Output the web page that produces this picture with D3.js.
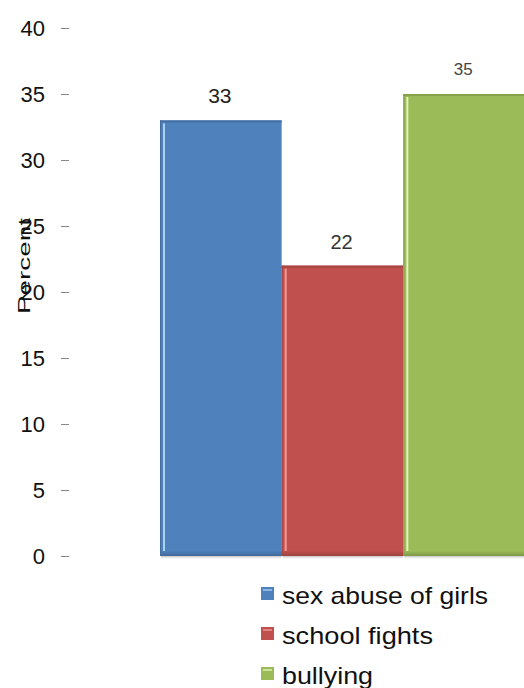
<!DOCTYPE html>
<html>
<head>
<meta charset="utf-8">
<script src="https://cdn.jsdelivr.net/npm/d3@7/dist/d3.min.js"></script>
<style>
html,body{margin:0;padding:0;background:#fff;}
svg{display:block;font-family:"Liberation Sans",Arial,sans-serif;}
</style>
</head>
<body>
<svg id="chart" width="524" height="688"></svg>
<script>
const categories = ["sex abuse of girls", "school fights", "bullying"];
const values = [33, 22, 35];
const colors = ["#4F81BD", "#C0504D", "#9BBB59"];
const highlights = ["#A9D0F5", "#F29A97", "#E4F5B8"];
const yTicks = [0, 5, 10, 15, 20, 25, 30, 35, 40];
const yLabel = "Percent";

const svg = d3.select("#chart");
const y = d3.scaleLinear().domain([0, 40]).range([556, 28]);
const x = d3.scaleBand().domain(categories).range([160, 525]).padding(0);

// gradients for bottom shading
const defs = svg.append("defs");
colors.forEach((c, i) => {
  const g = defs.append("linearGradient").attr("id", "g" + i)
    .attr("x1", 0).attr("y1", 0).attr("x2", 0).attr("y2", 1);
  g.append("stop").attr("offset", "0%").attr("stop-color", c);
  g.append("stop").attr("offset", "100%").attr("stop-color", d3.color(c).darker(0.6));
});
const sh = defs.append("linearGradient").attr("id", "shadow")
  .attr("x1", 0).attr("y1", 0).attr("x2", 0).attr("y2", 1);
sh.append("stop").attr("offset", "0%").attr("stop-color", "#999").attr("stop-opacity", 0.6);
sh.append("stop").attr("offset", "100%").attr("stop-color", "#fff").attr("stop-opacity", 0);

// y axis ticks and labels
const yAxis = d3.axisLeft(y).tickValues(yTicks).tickSize(8).tickPadding(16).tickFormat(d3.format("d"));
const ax = svg.append("g").attr("transform", "translate(69,0)").call(yAxis);
ax.select(".domain").remove();
ax.selectAll(".tick line").attr("stroke", "#888").attr("stroke-width", 1);
ax.selectAll(".tick text").attr("font-size", 22).attr("fill", "#111")
  .attr("font-family", "'Liberation Sans',Arial,sans-serif").attr("dy", "0.34em");

// y label
svg.append("text")
  .attr("transform", "translate(30,266) rotate(-90)")
  .attr("text-anchor", "middle")
  .attr("font-size", 17).attr("fill", "#111")
  .attr("textLength", 96).attr("lengthAdjust", "spacingAndGlyphs")
  .text(yLabel);

// bars
const bars = svg.append("g").selectAll("g").data(categories).join("g");
bars.append("rect")
  .attr("x", d => x(d) + 1).attr("width", x.bandwidth() - 1)
  .attr("y", 556).attr("height", 4)
  .attr("fill", "url(#shadow)");
bars.append("rect")
  .attr("x", d => x(d)).attr("width", x.bandwidth())
  .attr("y", (d, i) => y(values[i])).attr("height", (d, i) => y(0) - y(values[i]))
  .attr("fill", (d, i) => colors[i]);
bars.append("rect")
  .attr("x", d => x(d)).attr("width", x.bandwidth())
  .attr("y", y(0) - 5).attr("height", 5)
  .attr("fill", (d, i) => `url(#g${i})`);
bars.append("rect")
  .attr("x", d => x(d)).attr("width", x.bandwidth())
  .attr("y", (d, i) => y(values[i])).attr("height", 2)
  .attr("fill", (d, i) => d3.color(colors[i]).darker(0.4));
bars.append("rect")
  .attr("x", d => x(d) + 3).attr("width", 2)
  .attr("y", (d, i) => y(values[i]) + 3).attr("height", (d, i) => y(0) - y(values[i]) - 8)
  .attr("fill", (d, i) => highlights[i]);
bars.append("rect")
  .attr("x", d => x(d)).attr("width", 1)
  .attr("y", (d, i) => y(values[i])).attr("height", (d, i) => y(0) - y(values[i]))
  .attr("fill", (d, i) => d3.color(colors[i]).darker(0.5));

// value labels
const labelSizes = [21, 20, 17];
const labelColors = ["#222", "#333", "#444"];
bars.append("text")
  .attr("x", d => x(d) + x.bandwidth() / 2 - 1)
  .attr("y", (d, i) => y(values[i]) - (i === 2 ? 19 : 17))
  .attr("text-anchor", "middle")
  .attr("font-size", (d, i) => labelSizes[i])
  .attr("fill", (d, i) => labelColors[i])
  .text((d, i) => values[i]);

// legend
const lg = svg.append("g").selectAll("g").data(categories).join("g")
  .attr("transform", (d, i) => `translate(261,${587 + i * 40})`);
lg.append("rect").attr("width", 13).attr("height", 13)
  .attr("fill", (d, i) => colors[i]);
lg.append("rect").attr("x", 2).attr("y", 2).attr("width", 9).attr("height", 2)
  .attr("fill", (d, i) => highlights[i]).attr("opacity", 0.7);
const legendLens = [206, 151, 91];
lg.append("text").attr("x", 21).attr("y", 17)
  .attr("font-size", 24).attr("fill", "#111")
  .attr("textLength", (d, i) => legendLens[i]).attr("lengthAdjust", "spacingAndGlyphs")
  .text(d => d);
</script>
</body>
</html>
